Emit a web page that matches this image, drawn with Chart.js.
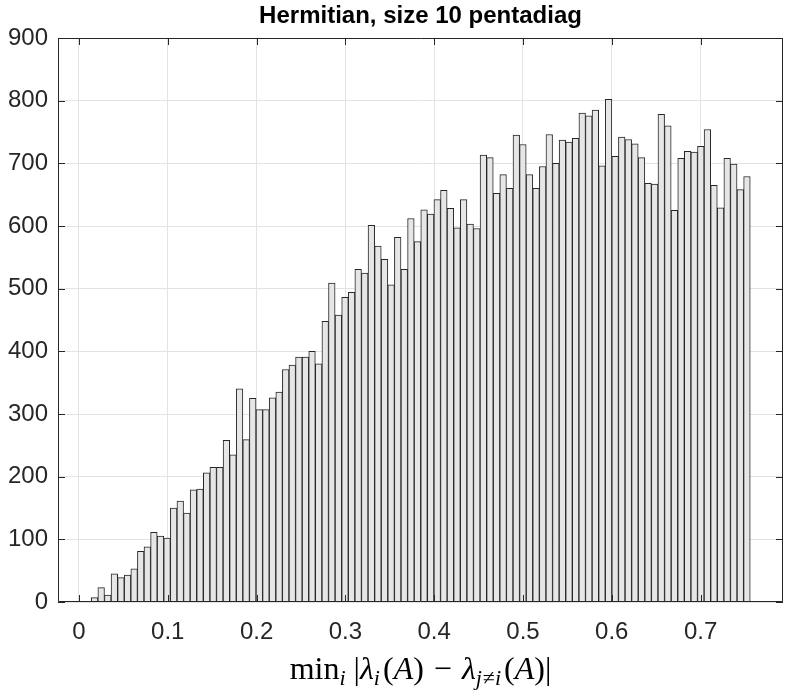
<!DOCTYPE html>
<html>
<head>
<meta charset="utf-8">
<title>Hermitian, size 10 pentadiag</title>
<script src="https://cdn.jsdelivr.net/npm/chart.js@4.4.1/dist/chart.umd.min.js"></script>
<style>
  html, body { margin: 0; padding: 0; background: #fff; }
  #wrap { width: 788px; height: 691px; }
</style>
</head>
<body>
<div id="wrap"><canvas id="histChart" width="788" height="691"></canvas></div>
<script>
'use strict';

//////////////////////
// data
//////////////////////

// 100 bins, counts left to right
const counts = [
  7, 23, 11, 45, 39, 43, 53, 81, 88, 111,
  105, 102, 150, 161, 142, 179, 180, 206, 215, 215,
  258, 235, 340, 259, 325, 307, 307, 326, 335, 371,
  378, 391, 391, 400, 380, 448, 509, 458, 486, 494,
  531, 525, 601, 568, 547, 506, 582, 531, 612, 575,
  626, 619, 642, 657, 628, 597, 642, 603, 596, 713,
  709, 652, 682, 660, 745, 730, 682, 660, 695, 746,
  700, 737, 734, 740, 780, 776, 785, 696, 802, 711,
  742, 738, 731, 709, 668, 667, 778, 760, 625, 708,
  719, 718, 727, 754, 665, 629, 708, 699, 658, 679
];
const binStart = 0.0139;
const binWidth = 0.00742;
const xTicks = [0, 0.1, 0.2, 0.3, 0.4, 0.5, 0.6, 0.7];
const yTicks = [0, 100, 200, 300, 400, 500, 600, 700, 800, 900];
const titleText = 'Hermitian, size 10 pentadiag';

//////////////////////
// styles
//////////////////////

const axisColor = '#262626';
const gridColor = '#e3e3e3';
const tickFont = { family: "'Liberation Sans', Arial, sans-serif", size: 24 };

function binPoints() {
  let points = [];
  for (let i = 0; i < counts.length; i++) {
    points.push({ x: binStart + binWidth * (i + 0.5), y: counts[i] });
  }
  return points;
}

// draws a list of [text, font, dy] runs centred on cx
// a run with a number instead of text is just a gap in px
function drawRuns(ctx, runs, cx, y) {
  let total = 0;
  for (let r of runs) {
    if (typeof r[0] === 'number') { total += r[0]; continue; }
    ctx.font = r[1];
    total += ctx.measureText(r[0]).width;
  }
  let x = cx - total / 2;
  ctx.textAlign = 'left';
  ctx.textBaseline = 'alphabetic';
  for (let r of runs) {
    if (typeof r[0] === 'number') { x += r[0]; continue; }
    ctx.font = r[1];
    ctx.fillText(r[0], x, y + r[2]);
    x += ctx.measureText(r[0]).width;
  }
}

const framePlugin = {
  id: 'frame',
  afterDraw(chart) {
    const ctx = chart.ctx;
    const area = chart.chartArea;
    const xs = chart.scales.x;
    const ys = chart.scales.y;
    const tickLen = 7;

    ctx.save();
    ctx.strokeStyle = axisColor;
    ctx.lineWidth = 1;
    ctx.beginPath();
    ctx.rect(area.left + 0.5, area.top + 0.5, area.right - area.left - 1, area.bottom - area.top - 1);
    // inward tick marks on all four sides
    for (let v of xTicks) {
      const px = Math.round(xs.getPixelForValue(v)) + 0.5;
      ctx.moveTo(px, area.bottom);
      ctx.lineTo(px, area.bottom - tickLen);
      ctx.moveTo(px, area.top);
      ctx.lineTo(px, area.top + tickLen);
    }
    for (let v of yTicks) {
      const py = Math.round(ys.getPixelForValue(v)) + 0.5;
      ctx.moveTo(area.left, py);
      ctx.lineTo(area.left + tickLen, py);
      ctx.moveTo(area.right, py);
      ctx.lineTo(area.right - tickLen, py);
    }
    ctx.stroke();

    // title
    ctx.fillStyle = '#000';
    ctx.font = "bold 24px 'Liberation Sans', Arial, sans-serif";
    ctx.textAlign = 'center';
    ctx.textBaseline = 'alphabetic';
    ctx.fillText(titleText, (area.left + area.right) / 2, 23);

    // x label: min_i |λ_i(A) − λ_{j≠i}(A)|
    const serif = "'Liberation Serif', 'DejaVu Serif', serif";
    const up = '32px ' + serif;
    const it = 'italic 32px ' + serif;
    const sub = 'italic 22px ' + serif;
    const subUp = '22px ' + serif;
    drawRuns(ctx, [
      ['min', up, 0],
      ['i', sub, 6],
      [8],
      ['|', up, 0],
      ['λ', it, 0],
      ['i', sub, 6],
      [3],
      ['(', up, 0],
      ['A', it, 0],
      [')', up, 0],
      [10],
      ['−', up, 0],
      [10],
      ['λ', it, 0],
      ['j', sub, 6],
      [1],
      ['≠', subUp, 6],
      ['i', sub, 6],
      [3],
      ['(', up, 0],
      ['A', it, 0],
      [')', up, 0],
      ['|', up, 0]
    ], (area.left + area.right) / 2, 679);
    ctx.restore();
  }
};

function addChart() {
  const data = {
    datasets: [{
      label: 'counts',
      data: binPoints(),
      backgroundColor: '#e6e6e6',
      borderColor: '#262626',
      borderWidth: 1,
      borderSkipped: 'bottom',
      barPercentage: 1,
      categoryPercentage: 1
    }]
  };

  const config = {
    type: 'bar',
    data: data,
    options: {
      responsive: false,
      animation: false,
      devicePixelRatio: 1,
      layout: { padding: { top: 38, right: 5, left: 0, bottom: 0 } },
      plugins: {
        legend: { display: false },
        title: { display: false },
        tooltip: { enabled: false }
      },
      scales: {
        x: {
          type: 'linear',
          offset: false,
          min: -0.0236,
          max: 0.7928,
          afterBuildTicks: s => { s.ticks = xTicks.map(v => ({ value: v })); },
          afterFit: s => { s.height = 89; },
          grid: { color: gridColor, drawTicks: false, offset: false },
          border: { display: false },
          ticks: {
            color: axisColor,
            font: tickFont,
            padding: 16,
            maxRotation: 0,
            autoSkip: false,
            callback: v => (v === 0 ? '0' : v.toFixed(1))
          }
        },
        y: {
          min: 0,
          max: 900,
          afterBuildTicks: s => { s.ticks = yTicks.map(v => ({ value: v })); },
          afterFit: s => { s.width = 58; },
          grid: { color: gridColor, drawTicks: false },
          border: { display: false },
          ticks: {
            color: axisColor,
            font: tickFont,
            padding: 10,
            callback: v => String(v)
          }
        }
      }
    },
    plugins: [framePlugin]
  };

  const canvasChart = document.getElementById('histChart');
  new Chart(canvasChart, config);
}

addChart();
</script>
</body>
</html>
